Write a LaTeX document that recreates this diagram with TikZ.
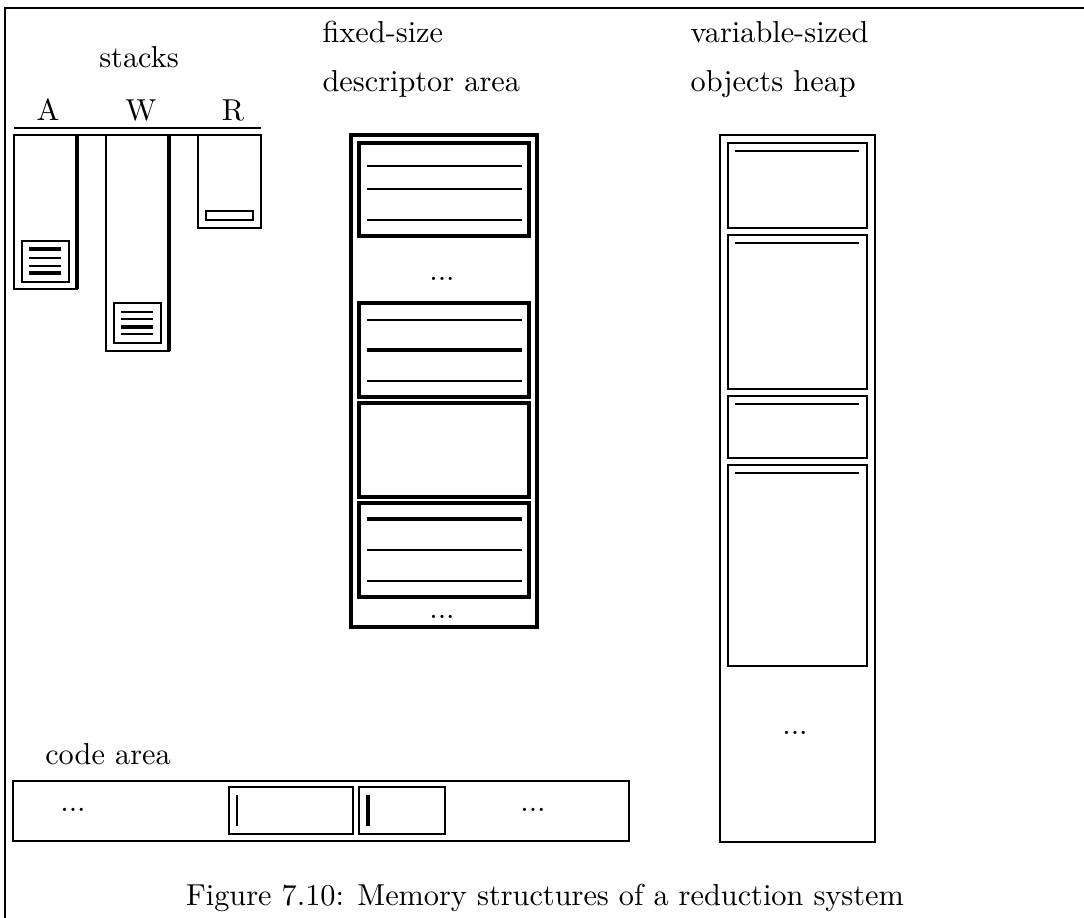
\documentclass[tikz,border=0pt]{standalone}
\usepackage{tikz}
\usetikzlibrary{positioning}

\tikzset{
  cell/.style={draw, line width=0.9pt},
  rule/.style={line width=0.85pt},
  thinrule/.style={line width=0.6pt},
  lbl/.style={inner sep=0pt, anchor=base},
}

\begin{document}
\begin{tikzpicture}[x=0.33pt, y=-0.33pt]
  \useasboundingbox (0,0) rectangle (1084,918);
  % Page frame
  \draw[line width=0.75pt] (1084,8) -- (5,8) -- (5,918);

  % Stacks A, W, R
  \node[lbl] (stacks) at (139,67) {stacks};
  \foreach \x/\name in {48/A, 141/W, 233/R} {
    \node[lbl] (lab\name) at (\x,120) {\name};
  }
  \draw[thinrule] (14,128) -- (261,128);
  \draw[rule] (14,135) -- (261,135);
  \draw[cell] (14,135) rectangle (77,289);
  \draw[cell] (106,135) rectangle (169,351);
  \draw[cell] (198,135) rectangle (261,228);
  \draw[line width=1.2pt] (77,135) -- (77,289);
  \draw[line width=1.2pt] (169,135) -- (169,351);
  % frames on the stacks
  \draw[cell] (22,241) rectangle (69,282);
  \foreach \y/\w in {249/1.1pt, 258/0.7pt, 266/0.7pt, 273/1.1pt} {
    \draw[line width=\w] (29,\y) -- (61,\y);
  }
  \draw[cell] (114,303) rectangle (161,343);
  \foreach \y/\w in {312/0.7pt, 319/0.7pt, 327/1.1pt, 334/0.7pt} {
    \draw[line width=\w] (121,\y) -- (153,\y);
  }
  \draw[cell] (206,211) rectangle (253,220);

  % Descriptor area
  \node[lbl, anchor=base west] (fixed) at (322,43) {fixed-size};
  \node[lbl, anchor=base west] (descr) at (322,92) {descriptor area};
  \draw[line width=1.1pt] (351,135) rectangle (537,627);
  \foreach \top/\bot in {143/236, 303/397, 403/497, 503/597} {
    \draw[line width=1pt] (359,\top) rectangle (529,\bot);
  }
  \foreach \y/\w in {166/0.85pt, 189/0.85pt, 220/0.85pt,
                     320/0.85pt, 350/1.1pt, 381/0.85pt,
                     519/1.1pt, 550/0.85pt, 581/0.85pt} {
    \draw[line width=\w] (367,\y) -- (522,\y);
  }
  \node (ddots1) at (442,279) {...};
  \node (ddots2) at (442,617) {...};

  % Heap
  \node[lbl, anchor=base west] (varsize) at (690,43) {variable-sized};
  \node[lbl, anchor=base west] (heap) at (690,92) {objects heap};
  \draw[cell] (720,135) rectangle (875,842);
  \foreach \top/\bot in {143/228, 235/389, 396/458, 465/666} {
    \draw[cell] (728,\top) rectangle (867,\bot);
    \draw[rule] (735,\top+8) -- (859,\top+8);
  }
  \node (hdots) at (795,733) {...};

  % Code area
  \node[lbl] (code) at (108,765) {code area};
  \draw[cell] (13,781) rectangle (629,841);
  \draw[cell] (229,787) rectangle (353,834);
  \draw[cell] (359,787) rectangle (445,834);
  \draw[line width=0.8pt] (237,795) -- (237,826);
  \draw[line width=1.2pt] (368,795) -- (368,826);
  \node (cdots1) at (73,810) {...};
  \node (cdots2) at (533,810) {...};

  % Caption
  \node[lbl] (caption) at (545,905) {Figure 7.10: Memory structures of a reduction system};
\end{tikzpicture}
\end{document}
